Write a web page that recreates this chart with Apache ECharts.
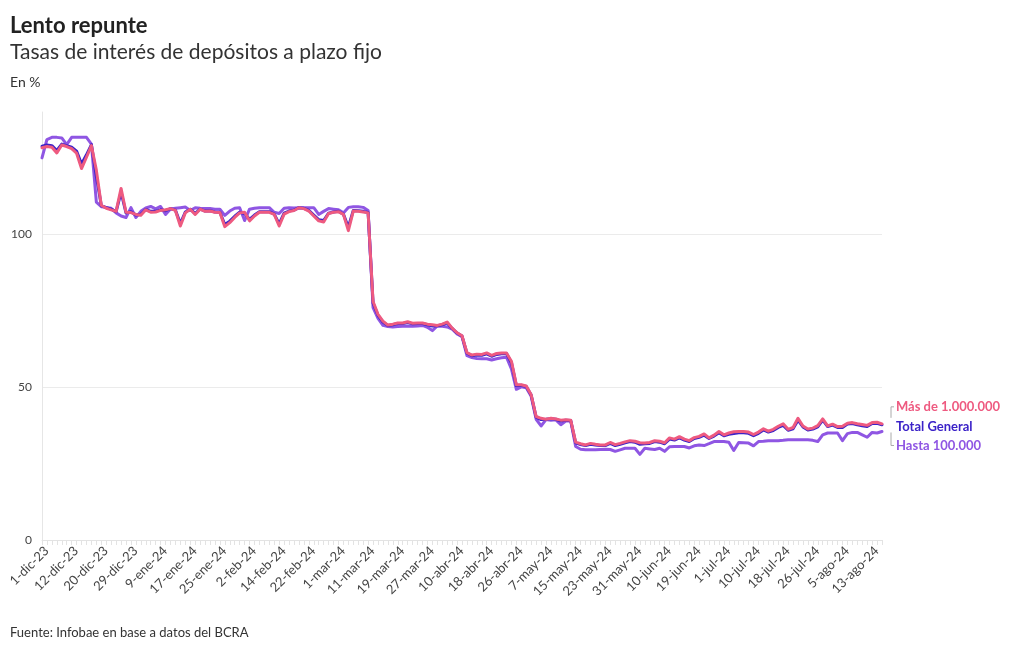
<!DOCTYPE html>
<html><head><meta charset="utf-8">
<script src="https://cdn.jsdelivr.net/npm/echarts@6/dist/echarts.min.js"></script>
<style>html,body{margin:0;padding:0;background:#fff}#c{width:1020px;height:650px}</style>
</head><body><div id="c"></div>
<script>
const dates = [
'1-dic-23','4-dic-23','5-dic-23','6-dic-23','7-dic-23','11-dic-23','12-dic-23','13-dic-23','14-dic-23','15-dic-23',
'18-dic-23','19-dic-23','20-dic-23','21-dic-23','22-dic-23','26-dic-23','27-dic-23','28-dic-23','29-dic-23','2-ene-24',
'3-ene-24','4-ene-24','5-ene-24','8-ene-24','9-ene-24','10-ene-24','11-ene-24','12-ene-24','15-ene-24','16-ene-24',
'17-ene-24','18-ene-24','19-ene-24','22-ene-24','23-ene-24','24-ene-24','25-ene-24','26-ene-24','29-ene-24','30-ene-24',
'31-ene-24','1-feb-24','2-feb-24','5-feb-24','6-feb-24','7-feb-24','8-feb-24','9-feb-24','14-feb-24','15-feb-24',
'16-feb-24','19-feb-24','20-feb-24','21-feb-24','22-feb-24','23-feb-24','26-feb-24','27-feb-24','28-feb-24','29-feb-24',
'1-mar-24','4-mar-24','5-mar-24','6-mar-24','7-mar-24','8-mar-24','11-mar-24','12-mar-24','13-mar-24','14-mar-24',
'15-mar-24','18-mar-24','19-mar-24','20-mar-24','21-mar-24','22-mar-24','25-mar-24','26-mar-24','27-mar-24','3-abr-24',
'4-abr-24','5-abr-24','8-abr-24','9-abr-24','10-abr-24','11-abr-24','12-abr-24','15-abr-24','16-abr-24','17-abr-24',
'18-abr-24','19-abr-24','22-abr-24','23-abr-24','24-abr-24','25-abr-24','26-abr-24','29-abr-24','30-abr-24','2-may-24',
'3-may-24','6-may-24','7-may-24','8-may-24','9-may-24','10-may-24','13-may-24','14-may-24','15-may-24','16-may-24',
'17-may-24','20-may-24','21-may-24','22-may-24','23-may-24','24-may-24','27-may-24','28-may-24','29-may-24','30-may-24',
'31-may-24','3-jun-24','4-jun-24','5-jun-24','6-jun-24','7-jun-24','10-jun-24','11-jun-24','12-jun-24','13-jun-24',
'14-jun-24','18-jun-24','19-jun-24','24-jun-24','25-jun-24','26-jun-24','27-jun-24','28-jun-24','1-jul-24','2-jul-24',
'3-jul-24','4-jul-24','5-jul-24','8-jul-24','10-jul-24','11-jul-24','12-jul-24','15-jul-24','16-jul-24','17-jul-24',
'18-jul-24','19-jul-24','22-jul-24','23-jul-24','24-jul-24','25-jul-24','26-jul-24','29-jul-24','30-jul-24','31-jul-24',
'1-ago-24','2-ago-24','5-ago-24','6-ago-24','7-ago-24','8-ago-24','9-ago-24','12-ago-24','13-ago-24','14-ago-24',
'15-ago-24'
];

const masDe1M = [
128.3,128.7,128.5,126.6,129.2,128.7,128.0,126.5,121.5,125.2,
129.0,121.0,109.5,108.5,108.0,107.5,115.0,107.2,107.1,106.5,
106.2,108.0,107.2,107.3,107.8,108.0,108.4,107.8,102.7,107.0,
108.2,106.5,108.2,107.5,107.6,107.2,107.1,102.5,103.8,105.5,
107.0,107.2,104.4,106.0,107.2,107.2,107.2,106.5,102.7,106.6,
107.4,107.8,108.7,108.4,107.6,106.0,104.4,104.0,106.8,107.2,
107.4,106.5,101.2,107.6,107.5,107.3,107.0,78.0,73.8,71.6,
70.3,70.6,71.0,71.0,71.4,70.9,71.0,71.0,70.6,70.4,
70.2,70.6,71.3,69.3,67.8,66.8,61.3,60.5,60.8,60.7,
61.2,60.4,61.0,61.2,61.2,58.5,50.8,50.8,50.4,47.5,
40.4,39.8,39.5,39.8,39.6,39.2,39.3,39.2,32.0,31.5,
31.1,31.6,31.3,31.1,31.1,31.9,31.2,31.6,32.1,32.5,
32.3,31.8,31.7,31.9,32.5,32.3,31.8,33.4,33.0,33.8,
33.0,32.5,33.5,33.9,34.7,33.4,34.3,35.5,34.4,35.0,
35.4,35.5,35.5,35.3,34.5,35.3,36.4,35.6,36.2,37.2,
38.0,36.2,36.8,39.8,37.3,36.3,36.6,37.4,39.6,37.3,
37.9,37.1,37.2,38.2,38.4,38.0,37.8,37.5,38.4,38.5,
38.0
];

const totalGeneral = [
128.8,129.2,129.0,127.4,129.5,129.0,128.5,127.2,123.0,126.0,
129.3,119.0,109.4,108.7,108.2,107.4,113.8,107.0,107.4,106.3,
106.5,108.1,107.5,107.5,108.0,107.7,108.4,107.9,103.5,107.3,
108.2,106.8,108.2,107.6,107.7,107.3,107.2,103.2,104.3,105.9,
107.2,106.8,104.9,106.3,107.4,107.4,107.4,106.6,103.4,106.9,
107.6,107.9,108.7,108.5,107.8,106.3,104.8,104.5,106.9,107.3,
107.5,106.6,102.3,107.8,107.7,107.5,107.1,77.5,73.5,71.3,
70.2,70.4,70.8,70.8,71.1,70.7,70.8,70.8,70.4,70.0,
70.1,70.4,71.0,69.2,67.7,66.7,61.1,60.3,60.5,60.4,
60.9,60.1,60.7,60.9,61.0,58.0,50.5,50.6,50.2,47.4,
40.2,39.4,39.5,39.7,39.5,38.9,39.2,39.1,31.8,31.2,
30.9,31.3,31.1,30.9,30.9,31.6,30.9,31.3,31.8,32.2,
32.0,31.3,31.5,31.6,32.2,32.0,31.5,33.0,32.7,33.4,
32.7,32.2,33.2,33.6,34.3,33.2,34.0,35.1,34.1,34.6,
34.8,35.1,35.1,34.9,34.1,34.9,36.0,35.3,35.8,36.8,
37.5,35.9,36.4,39.2,37.0,36.0,36.3,37.0,39.2,37.1,
37.6,36.8,36.8,37.9,38.1,37.7,37.4,37.1,38.1,38.2,
37.7
];

const hasta100k = [
125.0,131.0,131.7,131.7,131.5,129.3,131.7,131.7,131.7,131.7,
129.5,110.5,109.0,108.8,108.5,107.0,106.0,105.5,108.7,105.5,
107.5,108.6,109.1,108.3,109.1,106.5,108.3,108.5,108.7,108.9,
107.8,108.7,108.5,108.4,108.4,108.2,108.2,106.2,107.6,108.5,
108.7,104.5,108.2,108.5,108.7,108.7,108.7,107.2,106.8,108.5,
108.7,108.6,108.7,108.7,108.7,108.7,106.5,107.5,108.4,108.2,
108.0,107.0,108.8,109.0,109.0,108.8,107.8,76.0,72.5,70.2,
69.8,69.7,69.8,69.9,69.9,69.9,70.0,70.2,69.6,68.5,
70.0,69.9,69.7,69.0,67.4,66.5,60.3,59.7,59.4,59.3,
59.3,58.9,59.3,59.6,59.8,56.0,49.3,50.1,49.8,47.0,
39.5,37.3,39.4,39.2,39.3,37.7,38.9,38.9,30.6,29.7,
29.5,29.5,29.5,29.6,29.7,29.6,29.0,29.5,30.0,30.0,
30.0,28.0,30.0,29.8,29.6,30.0,29.0,30.5,30.6,30.6,
30.6,30.1,30.8,31.1,30.9,31.5,32.2,32.2,32.2,32.0,
29.3,31.9,31.8,31.7,30.8,32.2,32.3,32.5,32.5,32.5,
32.6,32.8,32.8,32.8,32.8,32.8,32.6,32.2,34.4,35.0,
35.0,35.0,32.5,34.8,35.2,35.2,34.4,33.6,35.2,35.0,
35.5
];

const seriesNames = ['Hasta 100.000', 'Total General', 'Más de 1.000.000'];
const seriesColors = ['#8f56e3', '#3b22c8', '#ee5a80'];
const FONT = 'Lato, "Noto Sans", sans-serif';

const chart = echarts.init(document.getElementById('c'), null, {renderer: 'canvas'});

function mkSeries(name, data, color, dy) {
  return {
    name: name, type: 'line', data: data, showSymbol: false, symbol: 'none',
    lineStyle: {width: 3, color: color, cap: 'round', join: 'round'},
    itemStyle: {color: color},
    emphasis: {disabled: true},
    endLabel: {
      show: true, formatter: name, color: color, fontWeight: 'bold',
      fontSize: 13, fontFamily: FONT, offset: [9, dy], distance: 5
    }
  };
}

const option = {
  animation: false,
  backgroundColor: '#ffffff',
  textStyle: {fontFamily: FONT},
  title: [
    {text: 'Lento repunte', left: 10, top: 15, padding: 0, textStyle: {fontSize: 22, fontWeight: 'bold', color: '#222', fontFamily: FONT}},
    {text: 'Tasas de interés de depósitos a plazo fijo', left: 10, top: 42, padding: 0, textStyle: {fontSize: 21, fontWeight: 'normal', color: '#333', fontFamily: FONT}},
    {text: 'En %', left: 10, top: 75, padding: 0, textStyle: {fontSize: 14, fontWeight: 'normal', color: '#333', fontFamily: FONT}},
    {text: 'Fuente: Infobae en base a datos del BCRA', left: 10, top: 626, padding: 0, textStyle: {fontSize: 13, fontWeight: 'normal', color: '#333', fontFamily: FONT}}
  ],
  grid: {left: 42, right: 138, top: 112, bottom: 110, containLabel: false},
  xAxis: {
    type: 'category', data: dates, boundaryGap: false,
    axisLine: {show: true, lineStyle: {color: '#e3e3e3', width: 1}},
    axisTick: {show: true, interval: 0, length: 5, lineStyle: {color: '#e3e3e3'}},
    axisLabel: {interval: 5, rotate: 45, fontSize: 13, color: '#444', margin: 4, verticalAlign: 'top', fontFamily: FONT},
    splitLine: {show: false}
  },
  yAxis: {
    type: 'value', min: 0, max: 140, interval: 50,
    axisLine: {show: true, lineStyle: {color: '#e6e6e6'}},
    axisTick: {show: false},
    axisLabel: {showMaxLabel: false, fontSize: 12, color: '#444', margin: 10, fontFamily: FONT},
    splitLine: {show: true, showMaxLine: false, showMinLine: false, lineStyle: {color: '#ebebeb'}}
  },
  series: [
    mkSeries(seriesNames[0], hasta100k, seriesColors[0], 14),
    mkSeries(seriesNames[1], totalGeneral, seriesColors[1], 2),
    mkSeries(seriesNames[2], masDe1M, seriesColors[2], -17)
  ]
};
chart.setOption(option);

// bracket connectors from line ends to their labels
const last = dates.length - 1;
const pPink = chart.convertToPixel({gridIndex: 0}, [last, masDe1M[last]]);
const pPurple = chart.convertToPixel({gridIndex: 0}, [last, hasta100k[last]]);
const cx = pPink[0] + 9;
chart.setOption({
  graphic: [
    {type: 'polyline', silent: true, shape: {points: [[cx, pPink[1] - 6], [cx, pPink[1] - 17], [cx + 3, pPink[1] - 17]]}, style: {stroke: '#aaaaaa', lineWidth: 1, fill: null}},
    {type: 'polyline', silent: true, shape: {points: [[cx, pPurple[1] + 1], [cx, pPurple[1] + 14], [cx + 3, pPurple[1] + 14]]}, style: {stroke: '#aaaaaa', lineWidth: 1, fill: null}}
  ]
});
</script>
</body></html>
